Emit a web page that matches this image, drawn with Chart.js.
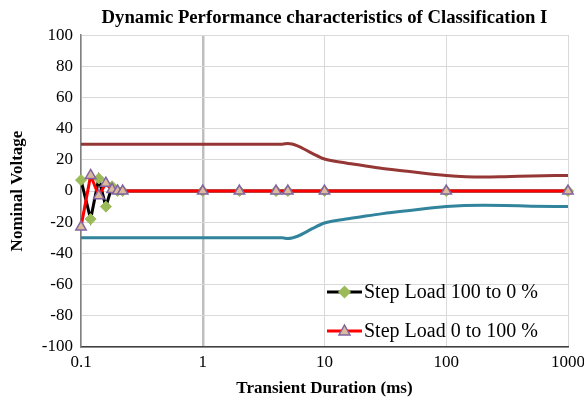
<!DOCTYPE html>
<html>
<head>
<meta charset="utf-8">
<script src="https://cdn.jsdelivr.net/npm/chart.js@4/dist/chart.umd.min.js"></script>
<style>
  html, body { margin: 0; padding: 0; background: #fff; }
</style>
</head>
<body>
<canvas id="chart" width="584" height="403"></canvas>
<script>
// step response samples (ms)
var stepTimes = [0.1, 0.12, 0.14, 0.16, 0.18, 0.2, 0.22, 1, 2, 4, 5, 10, 100, 1000];
var load100to0 = [7, -18, 8, -10, 3, 0, 0, 0, 0, 0, 0, 0, 0, 0];
var load0to100 = [-23, 10, -3, 5, 1, 0, 0, 0, 0, 0, 0, 0, 0, 0];

// tolerance envelope
var limitTimes = [0.1, 1, 4.5, 5, 6, 8, 10, 15, 20, 30, 50, 100, 200, 300, 500, 1000];
var upperLimit = [30, 30, 30, 30.5, 29, 24, 20.5, 18, 16.5, 14.5, 12.5, 10, 9, 9.2, 9.6, 10];
var lowerLimit = [-30, -30, -30, -30.5, -29, -24, -20.5, -18, -16.5, -14.5, -12.5, -10, -9.2, -9.3, -9.7, -10];

var xTicks = [0.1, 1, 10, 100, 1000];
var yTicks = [-100, -80, -60, -40, -20, 0, 20, 40, 60, 80, 100];

var serif = "'Liberation Serif', 'Times New Roman', serif";

function pts(xs, ys) {
    return xs.map(function(x, i) { return {x: x, y: ys[i]}; });
}

var legendItems = [
    {text: 'Step Load 100 to 0 %', line: '#000000', marker: 'diamond', fill: '#9BBB59', stroke: '#9BBB59'},
    {text: 'Step Load 0 to 100 %', line: '#FF0000', marker: 'triangle', fill: '#DDBB99', stroke: '#8064A2'}
];

var insideLegend = {
    id: 'insideLegend',
    afterDatasetsDraw: function(chart) {
        var ctx = chart.ctx;
        var rows = [292, 331];
        ctx.save();
        legendItems.forEach(function(item, i) {
            var y = rows[i];
            ctx.strokeStyle = item.line;
            ctx.lineWidth = 3;
            ctx.beginPath();
            ctx.moveTo(327, y);
            ctx.lineTo(362, y);
            ctx.stroke();
            var cx = 344.5;
            ctx.fillStyle = item.fill;
            ctx.strokeStyle = item.stroke;
            ctx.lineWidth = 1.5;
            ctx.beginPath();
            if (item.marker === 'diamond') {
                ctx.moveTo(cx, y - 5.5);
                ctx.lineTo(cx + 5.5, y);
                ctx.lineTo(cx, y + 5.5);
                ctx.lineTo(cx - 5.5, y);
            } else {
                ctx.moveTo(cx, y - 6);
                ctx.lineTo(cx + 5.5, y + 4);
                ctx.lineTo(cx - 5.5, y + 4);
            }
            ctx.closePath();
            ctx.fill();
            ctx.stroke();
            ctx.fillStyle = '#000';
            ctx.font = '20px ' + serif;
            ctx.textAlign = 'left';
            ctx.textBaseline = 'middle';
            ctx.fillText(item.text, 364, y + 1);
        });
        ctx.restore();
    }
};

var ctx = document.getElementById('chart').getContext('2d');
var chart = new Chart(ctx, {
    type: 'line',
    data: {
        datasets: [
            {
                label: 'Step Load 0 to 100 %',
                data: pts(stepTimes, load0to100),
                borderColor: '#FF0000',
                borderWidth: 3,
                pointStyle: 'triangle',
                pointRadius: 6,
                pointBackgroundColor: '#DDBB99',
                pointBorderColor: '#8064A2',
                pointBorderWidth: 1.5,
                tension: 0,
                clip: false,
                order: 1
            },
            {
                label: 'Step Load 100 to 0 %',
                data: pts(stepTimes, load100to0),
                borderColor: '#000000',
                borderWidth: 3,
                pointStyle: 'rectRot',
                pointRadius: 5.5,
                pointBackgroundColor: '#9BBB59',
                pointBorderColor: '#9BBB59',
                pointBorderWidth: 1,
                tension: 0,
                clip: false,
                order: 2
            },
            {
                label: 'Upper limit',
                data: pts(limitTimes, upperLimit),
                borderColor: '#953735',
                borderWidth: 3,
                pointRadius: 0,
                cubicInterpolationMode: 'monotone',
                order: 3
            },
            {
                label: 'Lower limit',
                data: pts(limitTimes, lowerLimit),
                borderColor: '#31849B',
                borderWidth: 3,
                pointRadius: 0,
                cubicInterpolationMode: 'monotone',
                order: 4
            }
        ]
    },
    options: {
        responsive: false,
        animation: false,
        devicePixelRatio: 1,
        layout: { padding: { left: 0, right: 0, top: 0, bottom: 0 } },
        plugins: {
            legend: { display: false },
            tooltip: { enabled: false },
            title: {
                display: true,
                fullSize: false,
                text: 'Dynamic Performance characteristics of Classification I',
                color: '#000',
                font: { family: serif, size: 18.7, weight: 'bold' },
                padding: { top: 7, bottom: 5.6 }
            }
        },
        scales: {
            x: {
                type: 'logarithmic',
                min: 0.1,
                max: 1000,
                afterBuildTicks: function(scale) {
                    scale.ticks = xTicks.map(function(v) { return {value: v}; });
                },
                afterFit: function(scale) {
                    scale.height = 56;
                    scale.paddingLeft = 0;
                    scale.paddingRight = 16;
                },
                ticks: {
                    color: '#000',
                    font: { family: serif, size: 17 },
                    padding: 5,
                    maxRotation: 0,
                    autoSkip: false,
                    callback: function(value) { return String(value); }
                },
                grid: {
                    drawTicks: false,
                    color: function(c) { return c.tick && c.tick.value === 1 ? '#bfbfbf' : '#d9d9d9'; },
                    lineWidth: function(c) { return c.tick && c.tick.value === 1 ? 2.5 : 1; }
                },
                border: { color: '#404040', width: 1.5 },
                title: {
                    display: true,
                    text: 'Transient Duration (ms)',
                    color: '#000',
                    font: { family: serif, size: 17, weight: 'bold' },
                    padding: { top: 0, bottom: 4 }
                }
            },
            y: {
                min: -100,
                max: 100,
                afterBuildTicks: function(scale) {
                    scale.ticks = yTicks.map(function(v) { return {value: v}; });
                },
                afterFit: function(scale) { scale.width = 81; },
                ticks: {
                    color: '#000',
                    font: { family: serif, size: 17 },
                    padding: 8
                },
                grid: { drawTicks: false, color: '#d9d9d9', lineWidth: 1 },
                border: { color: '#808080', width: 1.5 },
                title: {
                    display: true,
                    text: 'Nominal Voltage',
                    color: '#000',
                    font: { family: serif, size: 17, weight: 'bold' },
                    padding: { top: 7, bottom: 0 }
                }
            }
        }
    },
    plugins: [insideLegend]
});
</script>
</body>
</html>
